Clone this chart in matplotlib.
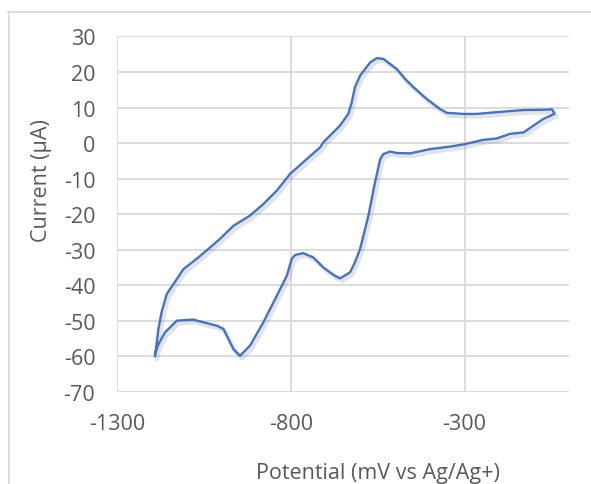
import matplotlib
matplotlib.use("Agg")
import matplotlib.pyplot as plt
import matplotlib.patheffects as pe
from matplotlib.lines import Line2D

# Cyclic voltammogram (mV vs Ag/Ag+, uA)
potential = [-1192, -1182, -1173, -1158, -1110, -1067, -1038, -1005, -966, -918,
             -880, -841, -803, -765, -716, -707, -659, -635, -625, -616,
             -601, -572, -553, -534, -495, -471, -447, -409, -371, -351,
             -303, -265, -207, -130, -63, -48, -41,
             -73, -130, -169, -207, -246, -299, -342, -399, -457, -495,
             -515, -534, -543, -558, -577, -601, -616, -630, -659, -678,
             -707, -736, -765, -788, -798, -812, -841, -880, -918, -947,
             -966, -995, -1014, -1043, -1082, -1129, -1163, -1182, -1192]
current = [-60.0, -52.3, -47.6, -42.5, -35.5, -32.2, -29.8, -27.0, -23.3, -20.4,
           -17.2, -13.4, -8.7, -5.4, -1.2, 0.2, 4.9, 8.2, 11.5, 15.7,
           19.0, 22.7, 23.9, 23.7, 20.8, 18.0, 15.7, 12.4, 9.6, 8.5,
           8.2, 8.2, 8.7, 9.3, 9.4, 9.5, 8.2,
           6.8, 3.0, 2.6, 1.3, 0.9, -0.3, -1.0, -1.7, -2.9, -2.8,
           -2.4, -3.1, -4.5, -11.0, -20.4, -29.8, -33.6, -36.4, -38.1, -37.1,
           -35.0, -32.2, -31.0, -31.5, -32.6, -37.3, -43.0, -50.5, -57.0, -59.9,
           -58.0, -52.3, -51.4, -50.7, -49.7, -50.0, -53.3, -56.6, -59.4]

x_ticks = [-1300, -800, -300]
y_ticks = [30, 20, 10, 0, -10, -20, -30, -40, -50, -60, -70]

grid_color = "#D9D9D9"
text_color = "#595959"
line_color = "#4472C4"

plt.rcParams["font.family"] = ["Open Sans", "DejaVu Sans"]
plt.rcParams["axes.unicode_minus"] = False

fig = plt.figure(figsize = (5.91, 4.85), dpi = 100)
ax = fig.add_axes([0.1988, 0.1903, 0.7635, 0.7324])

# Outer chart border (only top and left visible in the crop)
fig.add_artist(Line2D([8 / 591, 1], [1 - 13 / 485, 1 - 13 / 485], transform = fig.transFigure, color = grid_color, lw = 1.3))
fig.add_artist(Line2D([9 / 591, 9 / 591], [0, 1 - 13 / 485], transform = fig.transFigure, color = grid_color, lw = 1.3))

ax.plot(potential, current, color = line_color, lw = 1.7, solid_joinstyle = "round",
        path_effects = [pe.SimpleLineShadow(offset = (1.5, -2), shadow_color = "gray", alpha = 0.22, linewidth = 3), pe.Normal()])

ax.set_xlim(-1300, 0)
ax.set_ylim(-70, 30)
ax.set_xticks(x_ticks)
ax.set_yticks(y_ticks)
ax.grid(True, color = grid_color, lw = 1.3)
ax.set_axisbelow(True)
for spine in ax.spines.values():
    spine.set_visible(False)
ax.tick_params(length = 0, labelsize = 15.5, labelcolor = text_color)
ax.tick_params(axis = "x", pad = 15)
ax.tick_params(axis = "y", pad = 16)

# Axis titles are centred on the whole chart area, as Excel does
ax.set_xlabel("Potential (mV vs Ag/Ag+)", fontsize = 15.5, color = text_color)
ax.set_ylabel("Current (µA)", fontsize = 15.5, color = text_color)
ax.xaxis.set_label_coords(0.578, -0.198)
ax.yaxis.set_label_coords(-0.145, 0.596)

fig.savefig("out.png", dpi = 100)
